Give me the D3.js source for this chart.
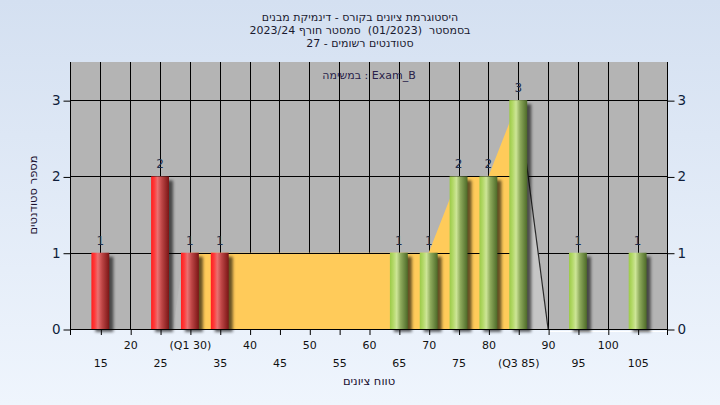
<!DOCTYPE html>
<html><head><meta charset="utf-8">
<script src="https://cdn.jsdelivr.net/npm/d3@7"></script>
<style>html,body{margin:0;padding:0;overflow:hidden;background:#e6eef8} text{white-space:pre}</style>
</head><body>
<script>
// ---- data ----
const titleLines = ["היסטוגרמת ציונים בקורס - דינמיקת מבנים", "בסמסטר  (01/2023)  סמסטר חורף 2023/24", "סטודנטים רשומים - 27"];
const subTitle = "במשימה : Exam_B";
const xTitle = "טווח ציונים";
const yTitle = "מספר סטודנטים";
const scores = [15, 25, 30, 35, 65, 70, 75, 80, 85, 95, 105];
const counts = [1, 2, 1, 1, 1, 1, 2, 2, 3, 1, 1];
const barGroup = ["low", "low", "low", "low", "high", "high", "high", "high", "high", "high", "high"];
const xTickValues = [15, 20, 25, 30, 35, 40, 45, 50, 55, 60, 65, 70, 75, 80, 85, 90, 95, 100, 105];
const xTickLabels = ["15", "20", "25", "(Q1 30)", "35", "40", "45", "50", "55", "60", "65", "70", "75", "80", "(Q3 85)", "90", "95", "100", "105"];
const yTickValues = [0, 1, 2, 3];
const iqrX = [30, 35, 65, 70, 75, 80, 85];
const iqrY = [1, 1, 1, 1, 2, 2, 3];
const tailRX = [85, 90];
const tailRY = [3, 0];
const tailLX = [27.2, 29];
const tailLY = [0, 1];

const W = 720, H = 405;
const svg = d3.select("body").append("svg").attr("width", W).attr("height", H)
  .style("font-family", "'DejaVu Sans', sans-serif");
const defs = svg.append("defs");
const bgG = defs.append("linearGradient").attr("id", "bg").attr("x1", 0).attr("y1", 0).attr("x2", 0).attr("y2", 1);
bgG.append("stop").attr("offset", 0).attr("stop-color", "#d4e0f1");
bgG.append("stop").attr("offset", 1).attr("stop-color", "#eff5fd");
function barGrad(id, stops) {
  const g = defs.append("linearGradient").attr("id", id).attr("x1", 0).attr("y1", 0).attr("x2", 1).attr("y2", 0);
  stops.forEach(s => g.append("stop").attr("offset", s[0]).attr("stop-color", s[1]));
}
barGrad("g-low", [[0, "#ff1e1e"], [0.18, "#ff3a3a"], [0.36, "#ea7070"], [0.6, "#bd4545"], [1, "#7a1515"]]);
barGrad("g-high", [[0, "#9cca48"], [0.18, "#b2d866"], [0.38, "#cde597"], [0.6, "#8eaa5c"], [1, "#4d6a28"]]);
const f = defs.append("filter").attr("id", "blur").attr("x", "-50%").attr("y", "-50%").attr("width", "200%").attr("height", "200%");
f.append("feGaussianBlur").attr("stdDeviation", 1.6);

svg.append("rect").attr("width", W).attr("height", H).attr("fill", "url(#bg)");

const x = d3.scaleLinear().domain([10, 110]).range([70.5, 667.5]);
const y = d3.scaleLinear().domain([0, 3.5]).range([329, 62]);
const X0 = x.range()[0], X1 = x.range()[1];

// plot background
svg.append("rect").attr("x", X0).attr("y", y(3.5)).attr("width", X1 - X0).attr("height", y(0) - y(3.5)).attr("fill", "#b4b4b4");

// vertical grid
svg.append("g").selectAll("line").data(xTickValues).join("line")
  .attr("x1", d => Math.round(x(d)) + 0.5).attr("x2", d => Math.round(x(d)) + 0.5)
  .attr("y1", y(3.5)).attr("y2", y(0)).attr("stroke", "#000").attr("stroke-width", 1);

// IQR area
const line = d3.line().x(d => x(d[0])).y(d => y(d[1]));
const iqrPts = [[iqrX[0], 0]].concat(iqrX.map((v, i) => [v, iqrY[i]])).concat([[iqrX[iqrX.length - 1], 0]]);
svg.append("path").attr("d", line(iqrPts) + "Z").attr("fill", "#ffcb5a");

// horizontal grid
svg.append("g").selectAll("line").data(yTickValues.filter(d => d > 0)).join("line")
  .attr("x1", X0).attr("x2", X1).attr("y1", d => Math.round(y(d)) + 0.5).attr("y2", d => Math.round(y(d)) + 0.5)
  .attr("stroke", "#000");

// tails
const rPts = tailRX.map((v, i) => [v, tailRY[i]]);
svg.append("path").attr("d", line(rPts.concat([[tailRX[0], 0]])) + "Z").attr("fill", "#c6c6c6");
svg.append("path").attr("d", line(rPts)).attr("stroke", "#2a2a2a").attr("stroke-width", 1.2).attr("fill", "none");
const lPts = tailLX.map((v, i) => [v, tailLY[i]]);
svg.append("path").attr("d", line(lPts.concat([[tailLX[1], 0]])) + "Z").attr("fill", "#bbbbbb");
svg.append("line").attr("x1", x(tailRX[1])).attr("x2", X1).attr("y1", 331.5).attr("y2", 331.5).attr("stroke", "#ffffff").attr("stroke-width", 1);

// bars
const bw = 3;
const bars = scores.map((s, i) => ({ s, c: counts[i], g: barGroup[i] }));
svg.append("g").selectAll("rect").data(bars).join("rect")
  .attr("x", d => x(d.s - bw / 2) + 4).attr("y", d => y(d.c) + 4)
  .attr("width", d => x(d.s + bw / 2) - x(d.s - bw / 2)).attr("height", d => y(0) - y(d.c) - 1)
  .attr("fill", "#000").attr("opacity", 0.6).attr("filter", "url(#blur)");
svg.append("g").selectAll("rect").data(bars).join("rect")
  .attr("x", d => x(d.s - bw / 2)).attr("y", d => y(d.c))
  .attr("width", d => x(d.s + bw / 2) - x(d.s - bw / 2)).attr("height", d => y(0) - y(d.c))
  .attr("fill", d => "url(#g-" + d.g + ")");
svg.append("g").selectAll("text").data(bars).join("text")
  .attr("x", d => x(d.s)).attr("y", d => y(d.c) - 8).attr("text-anchor", "middle")
  .attr("font-size", 12).attr("fill", "#1e2f4e").text(d => d.c);

// axes lines
const ax = svg.append("g").attr("stroke", "#000").attr("stroke-width", 1);
ax.append("line").attr("x1", X0).attr("x2", X1 + 0.5).attr("y1", 329.5).attr("y2", 329.5);
ax.append("line").attr("x1", X0).attr("x2", X0).attr("y1", y(3.5)).attr("y2", 335);
ax.append("line").attr("x1", X1).attr("x2", X1).attr("y1", y(3.5)).attr("y2", 335);

// x ticks
const xAxis = d3.axisBottom(x).tickValues(xTickValues).tickSize(6).tickFormat("");
svg.append("g").attr("transform", "translate(0,329)").call(xAxis)
  .call(g => g.select(".domain").remove())
  .call(g => g.selectAll("line").attr("stroke", "#000").attr("transform", "translate(0.5,0)"));
svg.append("g").selectAll("text").data(xTickValues).join("text")
  .attr("x", d => x(d) + 0.5).attr("y", d => d % 10 === 0 ? 349 : 367)
  .attr("text-anchor", "middle").attr("font-size", 11).attr("fill", "#111")
  .text((d, i) => xTickLabels[i]);

// y axes
const yL = d3.axisLeft(y).tickValues(yTickValues).tickSize(7).tickPadding(3).tickFormat(d3.format("d"));
svg.append("g").attr("transform", `translate(${X0},0)`).call(yL)
  .call(g => g.select(".domain").remove())
  .call(g => g.selectAll("line").attr("stroke", "#000").attr("transform", "translate(0,0.5)"))
  .call(g => g.selectAll("text").attr("font-size", 13.5).attr("fill", "#0f1e3c").attr("font-family", "'DejaVu Sans', sans-serif"));
const yR = d3.axisRight(y).tickValues(yTickValues).tickSize(7).tickPadding(3).tickFormat(d3.format("d"));
svg.append("g").attr("transform", `translate(${X1},0)`).call(yR)
  .call(g => g.select(".domain").remove())
  .call(g => g.selectAll("line").attr("stroke", "#000").attr("transform", "translate(0,0.5)"))
  .call(g => g.selectAll("text").attr("font-size", 13.5).attr("fill", "#0f1e3c").attr("font-family", "'DejaVu Sans', sans-serif"));

// titles
svg.append("g").selectAll("text").data(titleLines).join("text")
  .attr("x", 360).attr("y", (d, i) => 21 + i * 13).attr("text-anchor", "middle")
  .attr("font-size", 11).attr("fill", "#1a1a30").text(d => d);
svg.append("text").attr("x", (X0 + X1) / 2).attr("y", 79).attr("text-anchor", "middle")
  .attr("font-size", 11).attr("fill", "#2a1f4a").text(subTitle);
svg.append("text").attr("x", (X0 + X1) / 2).attr("y", 385).attr("text-anchor", "middle")
  .attr("font-size", 11.5).attr("fill", "#1a1030").text(xTitle);
svg.append("text").attr("transform", "translate(37,195) rotate(-90)").attr("text-anchor", "middle")
  .attr("font-size", 11.5).attr("fill", "#1a1030").text(yTitle);
</script>
</body></html>
